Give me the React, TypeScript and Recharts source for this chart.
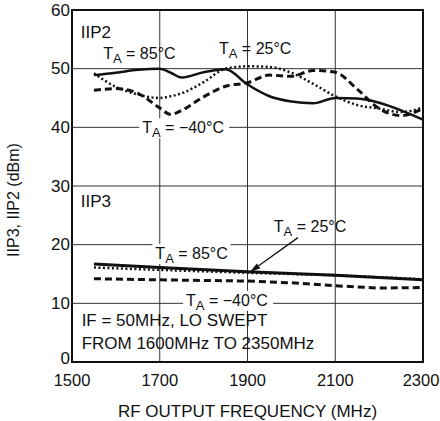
import {
  ComposedChart,
  Line,
  XAxis,
  YAxis,
  CartesianGrid,
  ReferenceArea,
  ReferenceDot,
  ReferenceLine,
} from "recharts";

/* ── LO-swept output frequency (MHz) ── */
const FREQ = [1550, 1600, 1650, 1700, 1725, 1750, 1800, 1850, 1900, 1950, 2000, 2050, 2100, 2150, 2200, 2250, 2300];

/* IIP2 (dBm) */
const IIP2_85 = [48.9, 49.3, 49.8, 50.0, 49.3, 48.5, 49.4, 49.9, 47.3, 45.3, 44.4, 44.1, 45.0, 44.9, 44.2, 42.9, 41.3];
const IIP2_25 = [49.2, 46.9, 45.6, 45.0, 45.3, 45.8, 47.7, 50.0, 50.4, 50.3, 49.3, 47.4, 45.3, 43.8, 43.2, 42.6, 43.4];
const IIP2_M40 = [46.3, 46.6, 45.8, 43.3, 42.2, 42.9, 45.2, 47.0, 47.6, 48.9, 48.7, 49.7, 49.4, 46.5, 43.2, 42.0, 43.2];

/* IIP3 (dBm) – null where not read */
const IIP3_85 = [16.7, null, null, 16.1, null, null, null, null, 15.4, null, null, null, 14.8, null, null, null, 14.0];
const IIP3_25 = [16.1, null, null, 15.7, null, null, null, null, 15.2, null, null, null, 14.8, null, null, null, 14.1];
const IIP3_M40 = [14.2, null, null, 14.0, null, null, null, null, 13.8, null, 13.5, null, 13.0, null, 12.6, null, 12.7];

const X_TICKS = [1500, 1700, 1900, 2100, 2300];
const Y_TICKS = [0, 10, 20, 30, 40, 50, 60];

const data = FREQ.map((f, i) => ({
  f,
  iip2_85: IIP2_85[i],
  iip2_25: IIP2_25[i],
  iip2_m40: IIP2_M40[i],
  iip3_85: IIP3_85[i],
  iip3_25: IIP3_25[i],
  iip3_m40: IIP3_M40[i],
}));

const FONT = "'Liberation Sans', Arial, sans-serif";
const INK = "#111";

// T_A = xx°C with subscript A
function TaText({ x, y, temp }: { x: number; y: number; temp: string }) {
  return (
    <text x={x} y={y} fontSize={16} fill={INK} fontFamily={FONT} dominantBaseline="central">
      <tspan>T</tspan>
      <tspan dy={5} fontSize={13}>A</tspan>
      <tspan dy={-5}>{` = ${temp}°C`}</tspan>
    </text>
  );
}

/* eslint-disable @typescript-eslint/no-explicit-any */
function Annot({ viewBox, text, temp, bg }: any) {
  if (!viewBox) return null;
  const x = viewBox.x;
  const y = viewBox.y;
  return (
    <g>
      {bg ? <rect x={x - 3} y={y - 9} width={bg} height={20} fill="#fff" /> : null}
      {temp ? (
        <TaText x={x} y={y} temp={temp} />
      ) : (
        <text x={x} y={y} fontSize={17} fill={INK} fontFamily={FONT} dominantBaseline="central">
          {text}
        </text>
      )}
    </g>
  );
}

function YTick({ x, y, payload }: any) {
  const dy = payload.value === 0 ? -4 : 0;
  return (
    <text x={x} y={y + dy} textAnchor="end" dominantBaseline="central" fontSize={17} fill={INK} fontFamily={FONT}>
      {payload.value}
    </text>
  );
}

function XTick({ x, y, payload }: any) {
  const dx = payload.value === 2300 ? -2 : 0;
  return (
    <text x={x + dx} y={y} textAnchor="middle" dominantBaseline="hanging" fontSize={16.5} fill={INK} fontFamily={FONT}>
      {payload.value}
    </text>
  );
}

function YLabel() {
  return (
    <text
      x={13}
      y={200}
      transform="rotate(-90 13 200)"
      textAnchor="middle"
      dominantBaseline="central"
      fontSize={16}
      fill={INK}
      fontFamily={FONT}
    >
      IIP3, IIP2 (dBm)
    </text>
  );
}

function Arrow({ x1, y1, x2, y2 }: any) {
  const ang = Math.atan2(y2 - y1, x2 - x1);
  const len = 11;
  const w = 3;
  const bx = x2 - len * Math.cos(ang);
  const by = y2 - len * Math.sin(ang);
  const px = -Math.sin(ang) * w;
  const py = Math.cos(ang) * w;
  return (
    <g>
      <line x1={x1} y1={y1} x2={bx} y2={by} stroke={INK} strokeWidth={1.3} />
      <polygon points={`${x2},${y2} ${bx + px},${by + py} ${bx - px},${by - py}`} fill={INK} />
    </g>
  );
}

export default function App() {
  return (
    <div style={{ position: "absolute", left: 0, top: 0, width: 440, height: 421, background: "#fff" }}>
      <ComposedChart width={440} height={421} data={data} margin={{ top: 10, right: 17, bottom: 0, left: 0 }}>
        <CartesianGrid stroke="#333" strokeWidth={1} horizontalValues={Y_TICKS} verticalValues={X_TICKS} />
        <XAxis
          dataKey="f"
          type="number"
          domain={[1500, 2300]}
          ticks={X_TICKS}
          height={59}
          tickLine={false}
          axisLine={false}
          tickMargin={6}
          tick={<XTick />}
          label={{
            value: "RF OUTPUT FREQUENCY (MHz)",
            position: "insideBottom",
            offset: 4,
            style: { fontSize: 17, fill: INK, fontFamily: FONT },
          }}
        />
        <YAxis
          type="number"
          domain={[0, 60]}
          ticks={Y_TICKS}
          width={72}
          tickLine={false}
          axisLine={false}
          tickSize={2}
          tickMargin={0}
          tick={<YTick />}
          label={<YLabel />}
        />

        {/* IIP2 */}
        <Line type="monotone" dataKey="iip2_85" stroke={INK} strokeWidth={2.5} dot={false} isAnimationActive={false} />
        <Line type="monotone" dataKey="iip2_25" stroke={INK} strokeWidth={2.5} strokeDasharray="2 2.5" dot={false} isAnimationActive={false} />
        <Line type="monotone" dataKey="iip2_m40" stroke={INK} strokeWidth={3} strokeDasharray="7 4" dot={false} isAnimationActive={false} />

        {/* IIP3 */}
        <Line type="linear" dataKey="iip3_85" stroke={INK} strokeWidth={3} dot={false} connectNulls isAnimationActive={false} />
        <Line type="linear" dataKey="iip3_25" stroke={INK} strokeWidth={2.5} strokeDasharray="2 2.5" dot={false} connectNulls isAnimationActive={false} />
        <Line type="linear" dataKey="iip3_m40" stroke={INK} strokeWidth={3} strokeDasharray="7 4" dot={false} connectNulls isAnimationActive={false} />

        {/* Plot frame */}
        <ReferenceArea x1={1500} x2={2300} y1={0} y2={60} fill="none" stroke={INK} strokeWidth={2} fillOpacity={0} />

        {/* Annotations */}
        <ReferenceDot x={1520} y={56.2} r={0} stroke="none" label={<Annot text="IIP2" />} />
        <ReferenceDot x={1571} y={52.6} r={0} stroke="none" label={<Annot temp="85" />} />
        <ReferenceDot x={1835} y={53.5} r={0} stroke="none" label={<Annot temp="25" />} />
        <ReferenceDot x={1660} y={40} r={0} stroke="none" label={<Annot temp="−40" bg={90} />} />

        <ReferenceDot x={1520} y={27.4} r={0} stroke="none" label={<Annot text="IIP3" />} />
        <ReferenceDot x={1690} y={18.6} r={0} stroke="none" label={<Annot temp="85" bg={78} />} />
        <ReferenceDot x={1960} y={23.1} r={0} stroke="none" label={<Annot temp="25" />} />
        <ReferenceDot x={1760} y={10.6} r={0} stroke="none" label={<Annot temp="−40" bg={90} />} />
        <ReferenceLine
          segment={[{ x: 2015, y: 21.2 }, { x: 1905, y: 15.3 }]}
          shape={<Arrow />}
        />

        <ReferenceDot x={1522} y={7.0} r={0} stroke="none" label={<Annot text="IF = 50MHz, LO SWEPT" />} />
        <ReferenceDot x={1522} y={3.1} r={0} stroke="none" label={<Annot text="FROM 1600MHz TO 2350MHz" />} />
      </ComposedChart>
    </div>
  );
}
